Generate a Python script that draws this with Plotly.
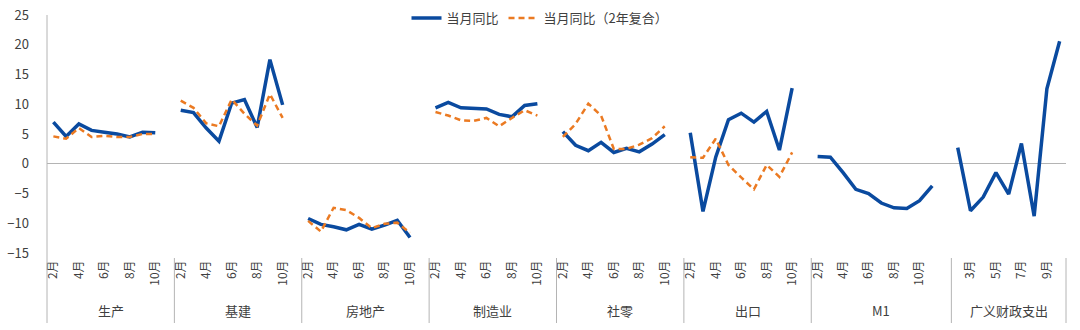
import plotly.graph_objects as go

# ---------------- data ----------------
groups = ["生产", "基建", "房地产", "制造业", "社零", "出口", "M1", "广义财政支出"]

months_std = ["2月", "3月", "4月", "5月", "6月", "7月", "8月", "9月", "10月", ""]
months_m1 = ["2月", "3月", "4月", "5月", "6月", "7月", "8月", "9月", "10月", "11月", ""]
months_fis = ["2月", "3月", "4月", "5月", "6月", "7月", "8月", "9月", "10月"]
group_months = [months_std] * 6 + [months_m1, months_fis]

yoy_shengchan = [7.0, 4.6, 6.7, 5.6, 5.3, 5.0, 4.5, 5.3, 5.2]
yoy_jijian = [9.0, 8.6, 6.0, 3.8, 10.2, 10.8, 6.1, 17.5, 9.9]
yoy_fangdichan = [-9.2, -10.2, -10.6, -11.1, -10.2, -11.0, -10.3, -9.5, -12.4]
yoy_zhizao = [9.4, 10.3, 9.4, 9.3, 9.2, 8.3, 7.9, 9.8, 10.1]
yoy_shiling = [5.4, 3.1, 2.2, 3.6, 1.9, 2.6, 2.0, 3.3, 4.9]
yoy_chukou = [5.2, -8.0, 1.1, 7.4, 8.5, 7.0, 8.8, 2.3, 12.7]
yoy_m1 = [1.2, 1.1, -1.5, -4.3, -5.0, -6.6, -7.4, -7.5, -6.2, -3.7]
yoy_caizheng = [2.7, -7.9, -5.6, -1.5, -5.1, 3.4, -8.8, 12.6, 20.6]

cagr_shengchan = [4.6, 4.2, 6.0, 4.5, 4.7, 4.5, 4.5, 5.0, 5.0]
cagr_jijian = [10.6, 9.4, 6.8, 6.3, 10.8, 8.4, 6.4, 11.7, 7.7]
cagr_fangdichan = [-9.6, -11.4, -7.4, -7.8, -9.1, -10.8, -10.1, -9.9, -11.6]
cagr_zhizao = [8.7, 8.1, 7.3, 7.2, 7.7, 6.3, 7.7, 9.0, 8.1]
cagr_shiling = [4.5, 6.7, 10.1, 8.1, 2.5, 2.5, 3.2, 4.3, 6.3]
cagr_chukou = [1.1, 1.0, 4.2, -0.2, -2.3, -4.3, -0.2, -2.2, 1.9]
cagr_m1 = []
cagr_caizheng = []

yoy_all = [yoy_shengchan, yoy_jijian, yoy_fangdichan, yoy_zhizao,
           yoy_shiling, yoy_chukou, yoy_m1, yoy_caizheng]
cagr_all = [cagr_shengchan, cagr_jijian, cagr_fangdichan, cagr_zhizao,
            cagr_shiling, cagr_chukou, cagr_m1, cagr_caizheng]

series_names = ["当月同比", "当月同比（2年复合）"]

# ---------------- build category axis ----------------
xs, y1, y2 = [], [], []
tickvals, ticktext = [], []
bounds = [-0.5]
centers = []
i = 0
for months, a, b in zip(group_months, yoy_all, cagr_all):
    start = i
    for k, m in enumerate(months):
        xs.append(i)
        y1.append(a[k] if k < len(a) else None)
        y2.append(b[k] if k < len(b) else None)
        if i % 2 == 0 and m:
            tickvals.append(i)
            ticktext.append(m)
        i += 1
    centers.append((start + i - 1) / 2)
    bounds.append(i - 0.5)

BLUE = "#0A4A9F"
ORANGE = "#EB7A22"
GRID = "#B4B4B4"
TXT = "#404040"
FONT = "Noto Sans CJK SC, Noto Sans, sans-serif"

fig = go.Figure()
fig.add_trace(go.Scatter(x=xs, y=y1, mode="lines", name=series_names[0],
                         line=dict(color=BLUE, width=3.5), connectgaps=False))
fig.add_trace(go.Scatter(x=xs, y=y2, mode="lines", name=series_names[1],
                         line=dict(color=ORANGE, width=2.5, dash="6px,4px"),
                         connectgaps=False))

W, H = 1080, 330
L, R, T, B = 47, 14, 15, 77
pw = W - L - R
ph = H - T - B

def py(pix):
    # pixel row (from top of page) -> paper y
    return ((H - B) - pix) / ph

shapes = []
x0, x1 = bounds[0], bounds[-1]
for bi, bx in enumerate(bounds):
    xp = (bx - x0) / (x1 - x0)
    top = 1.0 if bi == 0 else py(258)
    shapes.append(dict(type="line", xref="paper", yref="paper",
                       x0=xp, x1=xp, y0=top, y1=py(323),
                       line=dict(color=GRID, width=1)))

annotations = []
for g, c in zip(groups, centers):
    annotations.append(dict(x=c, y=py(310), xref="x", yref="paper", text=g,
                            showarrow=False, xanchor="center", yanchor="middle",
                            font=dict(size=13, color=TXT, family=FONT)))

fig.update_layout(
    width=W, height=H,
    margin=dict(l=L, r=R, t=T, b=B, pad=0, autoexpand=False),
    paper_bgcolor="white", plot_bgcolor="white",
    font=dict(family=FONT, color=TXT, size=13),
    shapes=shapes, annotations=annotations,
    showlegend=True,
    legend=dict(orientation="h", xref="paper", yref="paper",
                x=(W / 2 - L) / pw, xanchor="center", y=py(18), yanchor="middle",
                font=dict(size=13, color=TXT), bgcolor="rgba(0,0,0,0)",
                itemwidth=30, tracegroupgap=0),
    xaxis=dict(range=[x0, x1], tickmode="array", tickvals=tickvals,
               ticktext=ticktext, tickangle=-90, showgrid=False,
               zeroline=False, showline=False, ticks="",
               tickfont=dict(size=12, color=TXT), ticklabelstandoff=4),
    yaxis=dict(range=[-15, 25], dtick=5, tick0=0, showgrid=False,
               zeroline=True, zerolinecolor=GRID, zerolinewidth=1,
               showline=False, ticks="", tickfont=dict(size=13, color=TXT),
               ticklabelstandoff=17),
)

fig.write_html("out.html")
